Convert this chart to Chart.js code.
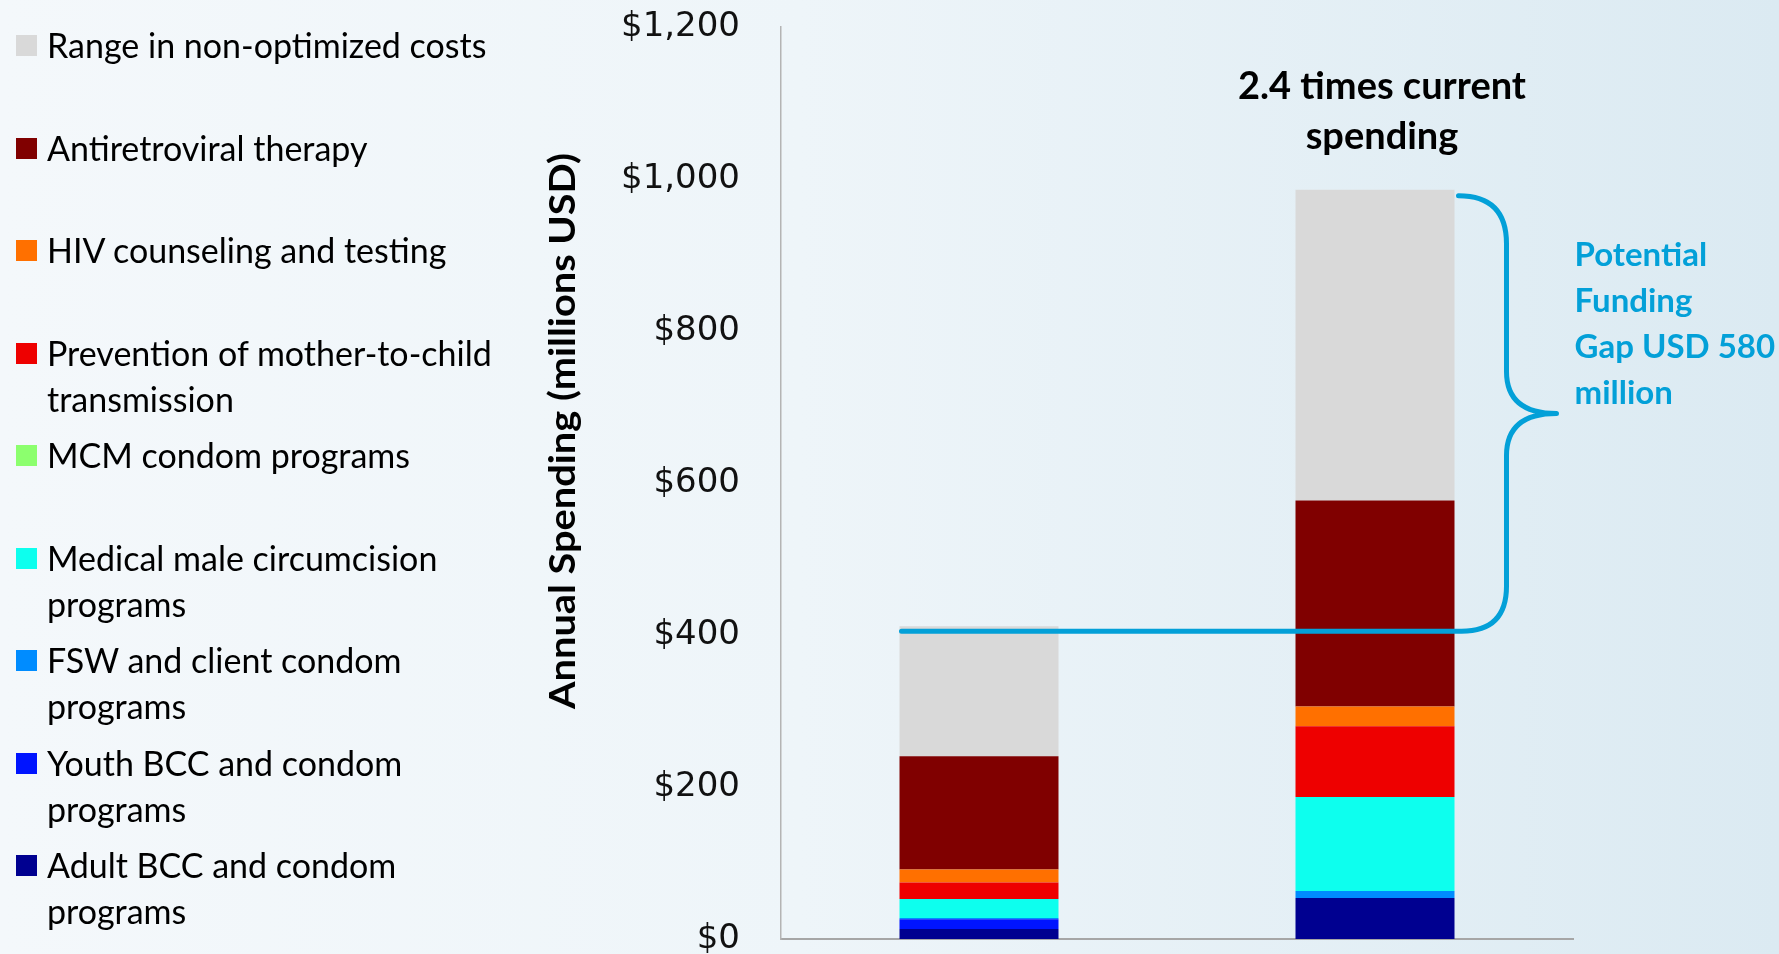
<!DOCTYPE html>
<html>
<head>
<meta charset="utf-8">
<title>Annual HIV spending</title>
<script src="https://cdn.jsdelivr.net/npm/chart.js@4.4.1/dist/chart.umd.min.js"></script>
<style>
    html, body { margin: 0; padding: 0; width: 1779px; height: 954px; overflow: hidden; }
    body {
        position: relative;
        font-family: Lato, "Noto Sans", sans-serif;
        background: linear-gradient(90deg, #f4f8fb 0%, #eef5f9 45%, #dbeaf2 100%);
    }
    #chartWrap { position: absolute; left: 0; top: 0; width: 1779px; height: 1000px; }
    #legend { position: absolute; left: 16px; top: 22px; }
    .item { display: flex; align-items: flex-start; height: 102.5px; }
    .box { width: 21px; height: 21px; margin-top: 13px; margin-right: 10px; flex: none; }
    .label { font-size: 34px; line-height: 46px; color: #000; width: 470px; }
</style>
</head>
<body>
<div id="chartWrap"><canvas id="spendChart" width="1779" height="1000"></canvas></div>
<div id="legend"></div>
<script>
// two bars: current spending and the optimized/required scenario
const categories = ['Current spending', 'Required spending'];

// stack order, bottom to top
const seriesNames = [
    'Adult BCC and condom programs',
    'Youth BCC and condom programs',
    'FSW and client condom programs',
    'Medical male circumcision programs',
    'MCM condom programs',
    'Prevention of mother-to-child transmission',
    'HIV counseling and testing',
    'Antiretroviral therapy',
    'Range in non-optimized costs'
];
const seriesColors = ['#000090', '#0014ff', '#008cff', '#0dffee', '#8cff6e', '#ee0000', '#ff7000', '#800000', '#d9d9d9'];

// values in millions USD
const adultBcc   = [13, 54];
const youthBcc   = [13, 0];
const fswCondom  = [1.5, 9];
const mmc        = [25, 124];
const mcmCondom  = [0, 0];
const pmtct      = [22, 93];
const hct        = [17, 26];
const art        = [149, 271];
const rangeCosts = [171, 409];
const seriesValues = [adultBcc, youthBcc, fswCondom, mmc, mcmCondom, pmtct, hct, art, rangeCosts];

const yTicks = [0, 200, 400, 600, 800, 1000, 1200];
const currentSpendingLine = 405;
const gapLabel = ['Potential', 'Funding', 'Gap USD 580', 'million'];
const ratioLabel = ['2.4 times current', 'spending'];
const yTitle = 'Annual Spending (millions USD)';

// legend, top to bottom is reverse of stack order
const legendEl = document.getElementById('legend');
for (let i = seriesNames.length - 1; i >= 0; i--) {
    const item = document.createElement('div');
    item.className = 'item';
    item.innerHTML = '<div class="box" style="background:' + seriesColors[i] + '"></div><div class="label">' + seriesNames[i] + '</div>';
    legendEl.appendChild(item);
}

const blue = '#03a0d8';

const annotations = {
    id: 'annotations',
    afterDatasetsDraw(chart) {
        const ctx = chart.ctx;
        const y = chart.scales.y;
        const top = chart.getDatasetMeta(seriesValues.length - 1);
        const bar1 = top.data[0];
        const bar2 = top.data[1];
        let total2 = 0;
        seriesValues.forEach(s => { total2 += s[1]; });

        const yTop = y.getPixelForValue(total2) + 6;
        const yBot = y.getPixelForValue(currentSpendingLine);
        const yMid = (yTop + yBot) / 2;
        const xV = bar2.x + bar2.width / 2 + 52;

        ctx.save();
        ctx.strokeStyle = blue;
        ctx.lineWidth = 5;
        ctx.lineCap = 'round';
        ctx.lineJoin = 'round';
        ctx.beginPath();
        ctx.moveTo(bar1.x - bar1.width / 2 + 2, yBot);
        ctx.lineTo(xV - 45, yBot);
        ctx.quadraticCurveTo(xV, yBot, xV, yBot - 45);
        ctx.lineTo(xV, yMid + 42);
        ctx.quadraticCurveTo(xV, yMid, xV + 50, yMid);
        ctx.quadraticCurveTo(xV, yMid, xV, yMid - 42);
        ctx.lineTo(xV, yTop + 48);
        ctx.quadraticCurveTo(xV, yTop, xV - 48, yTop);
        ctx.stroke();

        // funding gap text
        ctx.fillStyle = blue;
        ctx.font = 'bold 33px Lato, "Noto Sans", sans-serif';
        ctx.textAlign = 'left';
        ctx.textBaseline = 'middle';
        gapLabel.forEach((t, i) => ctx.fillText(t, xV + 68, yMid - 158 + i * 46));

        // ratio text above the second bar
        ctx.fillStyle = '#000';
        ctx.font = 'bold 38px Lato, "Noto Sans", sans-serif';
        ctx.textAlign = 'center';
        const yBar = y.getPixelForValue(total2);
        ratioLabel.forEach((t, i) => ctx.fillText(t, bar2.x + 7, yBar - 103 + i * 50));

        // axis title, rotated
        ctx.translate(563, 431);
        ctx.rotate(-Math.PI / 2);
        ctx.font = 'bold 36px Lato, "Noto Sans", sans-serif';
        const w = ctx.measureText(yTitle).width;
        ctx.scale(556 / w, 1);
        ctx.fillText(yTitle, 0, 0);
        ctx.restore();
    }
};

new Chart(document.getElementById('spendChart'), {
    type: 'bar',
    data: {
        labels: categories,
        datasets: seriesNames.map((name, i) => ({
            label: name,
            data: seriesValues[i],
            backgroundColor: seriesColors[i],
            borderWidth: 0,
            categoryPercentage: 1,
            barPercentage: 0.4015
        }))
    },
    options: {
        responsive: false,
        animation: false,
        layout: { padding: { left: 530, right: 206, top: 27, bottom: 61 } },
        plugins: { legend: { display: false }, tooltip: { enabled: false } },
        scales: {
            x: {
                stacked: true,
                grid: { display: false, drawTicks: false },
                border: { display: true, color: '#a6a6a6', width: 2 },
                ticks: { display: false }
            },
            y: {
                stacked: true,
                min: 0,
                max: 1200,
                afterBuildTicks: scale => { scale.ticks = yTicks.map(v => ({ value: v })); },
                afterFit: scale => { scale.width = 251; },
                grid: { display: false, drawTicks: true, tickLength: 38 },
                border: { display: true, color: '#b4b4b4', width: 1.5 },
                ticks: {
                    padding: 3,
                    color: '#111',
                    font: { family: '"DejaVu Sans", sans-serif', size: 34 },
                    callback: v => '$' + v.toLocaleString('en-US')
                }
            }
        }
    },
    plugins: [annotations]
});
</script>
</body>
</html>
